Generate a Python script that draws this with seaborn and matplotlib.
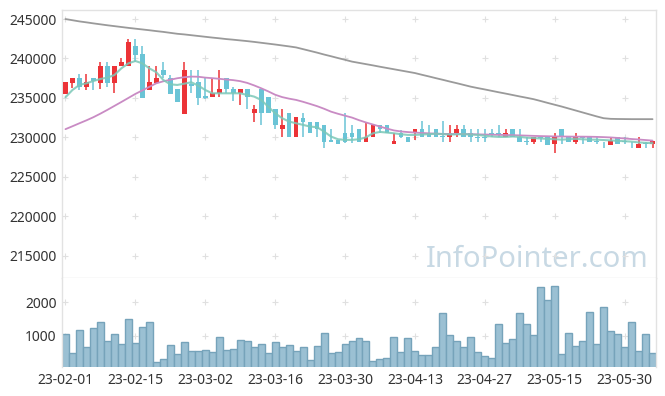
import matplotlib
matplotlib.use("Agg")
import matplotlib.pyplot as plt
import numpy as np
import pandas as pd
import seaborn as sns

# trading days (KRX calendar, holidays removed)
holidays = ["2023-03-01", "2023-05-01", "2023-05-05", "2023-05-29"]
days = pd.bdate_range("2023-02-01", "2023-06-05")
days = days[~days.isin(pd.to_datetime(holidays))]
day_labels = [d.strftime("%y-%m-%d") for d in days]

open_ = [235500, 236900, 237500, 236400, 237500, 236900, 239000, 236900, 239000, 239000,
         241600, 240600, 236000, 236900, 238500, 237500, 236100, 233000, 236700, 237000,
         235200, 235100, 235600, 237500, 236100, 235600, 236100, 233050, 236100, 235100,
         233550, 231000, 233050, 230000, 232500, 232000, 232000, 231550, 229600, 229600,
         230500, 230500, 231000, 229450, 230000, 231550, 231550, 229100, 230600, 230050,
         230500, 231050, 230500, 231050, 230100, 230000, 230500, 231050, 230500, 230050,
         230050, 230500, 230500, 230000, 231050, 230000, 229500, 229450, 230000, 230000,
         229100, 231000, 230000, 229450, 230000, 230000, 229550, 229450, 229050, 230000,
         229550, 229450, 228600, 229300, 229100]
high = [237000, 237500, 238000, 238000, 237500, 239500, 239500, 239000, 240100, 242500,
        242500, 241600, 239100, 239000, 239500, 237900, 236100, 239500, 238500, 238500,
        237500, 237500, 238500, 237500, 236400, 236100, 236100, 234100, 236100, 235100,
        233550, 233550, 233050, 232550, 233050, 232000, 232000, 231550, 231000, 229600,
        233050, 231500, 231000, 232000, 231550, 231550, 231550, 230500, 230900, 230050,
        231050, 232050, 231550, 231050, 232050, 231550, 231550, 231550, 231050, 231050,
        231050, 231050, 231550, 231050, 231050, 231050, 230000, 230000, 230000, 230000,
        230500, 231000, 230000, 230500, 230000, 230000, 230000, 229450, 230000, 230000,
        230000, 229450, 230000, 229450, 229550]
low = [235500, 236300, 236000, 236000, 236000, 236100, 236400, 235600, 239000, 239000,
       239500, 235000, 236000, 236900, 237500, 235500, 234500, 233000, 235600, 234100,
       234900, 235100, 235100, 235600, 234650, 234100, 233560, 232000, 231600, 233050,
       231000, 230000, 230000, 230000, 230000, 230500, 230000, 228600, 229450, 229150,
       229300, 229250, 229450, 229450, 230000, 230500, 230500, 229100, 229900, 229450,
       229700, 230000, 230000, 230000, 229450, 229450, 230000, 230000, 229450, 229450,
       229450, 230000, 230000, 230000, 230000, 229450, 229000, 229100, 229450, 229050,
       228050, 229100, 229450, 229100, 229100, 229450, 229100, 228600, 229050, 229100,
       229100, 228600, 228600, 228600, 228600]
close = [237000, 237500, 236400, 237000, 237200, 239000, 236900, 239000, 239500, 242100,
         240400, 235000, 237000, 237500, 237900, 235500, 234500, 238500, 236500, 235000,
         235000, 235600, 236100, 236100, 235600, 236100, 235100, 233550, 233050, 233050,
         231500, 231550, 230000, 232550, 232000, 230500, 231000, 229450, 229450, 229150,
         229450, 230000, 229450, 230000, 231550, 231000, 230500, 229550, 230000, 229450,
         231050, 230000, 230000, 230000, 230000, 230500, 231050, 230000, 230000, 229950,
         229950, 230400, 230400, 230500, 230000, 229450, 229450, 230000, 229900, 229050,
         230000, 230000, 229450, 230000, 229900, 229450, 229450, 229400, 229550, 229100,
         229450, 229350, 229100, 229200, 229550]
volume = [1040, 470, 1160, 650, 1220, 1400, 840, 1040, 750, 1490,
          770, 1250, 1400, 200, 290, 710, 440, 800, 530, 530,
          560, 500, 950, 560, 590, 860, 830, 650, 740, 470,
          800, 650, 710, 530, 650, 260, 680, 1070, 470, 500,
          740, 840, 920, 840, 230, 290, 320, 950, 500, 920,
          530, 410, 410, 650, 1670, 1010, 840, 650, 950, 500,
          380, 320, 1340, 770, 890, 1670, 1340, 1010, 2450, 2060,
          2480, 440, 1070, 680, 830, 1700, 740, 1850, 1130, 1040,
          650, 1400, 530, 1040, 470]
ma5 = [235080, 236000, 236640, 236850, 237140, 237400, 237570, 237900, 238750, 239380,
       239680, 239380, 238750, 238250, 237270, 236720, 236640, 236800, 236980, 236560,
       236000, 235580, 235580, 235580, 235580, 235580, 235370, 235160, 234740, 233890,
       233050, 232420, 231990, 231780, 231570, 231360, 231280, 230730, 230090, 229750,
       229670, 229670, 229750, 230000, 230510, 230680, 230600, 230510, 230390, 230300,
       230300, 230350, 230400, 230450, 230400, 230350, 230380, 230400, 230350, 230300,
       230200, 230100, 230050, 230050, 230100, 230050, 229950, 229900, 229850, 229800,
       229750, 229700, 229750, 229800, 229750, 229700, 229700, 229650, 229600, 229550,
       229500, 229450, 229350, 229300, 229250]
ma20 = [231030, 231400, 231780, 232150, 232550, 233000, 233480, 233980, 234480, 234990,
        235500, 235950, 236400, 236850, 237100, 237300, 237490, 237620, 237700, 237680,
        237570, 237500, 237420, 237330, 237250, 237120, 236900, 236580, 236220, 235830,
        235400, 235100, 234900, 234740, 234500, 234230, 233950, 233620, 233250, 232980,
        232740, 232500, 232170, 231880, 231620, 231360, 231100, 230870, 230740, 230660,
        230600, 230550, 230500, 230460, 230430, 230420, 230410, 230400, 230390, 230370,
        230350, 230330, 230310, 230290, 230270, 230240, 230210, 230180, 230150, 230130,
        230110, 230100, 230090, 230080, 230080, 230070, 230050, 230020, 229980, 229920,
        229850, 229780, 229720, 229650, 229580]
ma120 = [245000, 244850, 244700, 244580, 244450, 244330, 244210, 244100, 243990, 243880,
         243780, 243680, 243580, 243470, 243370, 243250, 243130, 243050, 242950, 242850,
         242750, 242650, 242560, 242460, 242380, 242290, 242200, 242100, 241990, 241880,
         241770, 241650, 241530, 241400, 241180, 240960, 240740, 240500, 240280, 240050,
         239830, 239600, 239440, 239280, 239120, 238950, 238790, 238630, 238470, 238310,
         238150, 237930, 237720, 237500, 237290, 237070, 236860, 236640, 236420, 236240,
         236070, 235890, 235710, 235540, 235360, 235180, 235010, 234830, 234600, 234360,
         234130, 233900, 233650, 233400, 233150, 232900, 232650, 232420, 232340, 232320,
         232310, 232300, 232300, 232300, 232300]

x_ticks = [0, 10, 20, 30, 40, 50, 60, 70, 80]
price_ticks = [215000, 220000, 225000, 230000, 235000, 240000, 245000]
vol_ticks = [1000, 2000]

UP = "#ec3337"
DOWN = "#6ac4d6"
GRID = "#e0e0e0"
SPINE = "#e2e2e2"

sns.set_theme(style="white")
plt.rcParams["font.family"] = ["Noto Sans", "DejaVu Sans"]

fig = plt.figure(figsize=(6.65, 3.96), dpi=100)
ax = fig.add_axes([0.0932, 0.298, 0.8933, 0.6768])
axv = fig.add_axes([0.0932, 0.0732, 0.8933, 0.2248], sharex=ax)

df = pd.DataFrame({"i": np.arange(len(day_labels)), "date": day_labels,
                   "open": open_, "high": high, "low": low, "close": close,
                   "volume": volume, "ma5": ma5, "ma20": ma20, "ma120": ma120})
df["up"] = df["close"] >= df["open"]
df["col"] = np.where(df["up"], UP, DOWN)

# candles
ax.vlines(df["i"], df["low"], df["high"], colors=df["col"], linewidth=1.1, zorder=2)
body = (df["close"] - df["open"]).abs().clip(lower=60)
ax.bar(df["i"], body, bottom=df[["open", "close"]].min(axis=1), width=0.68,
       color=df["col"], linewidth=0, zorder=3)

# moving averages
sns.lineplot(data=df, x="i", y="ma120", ax=ax, color="#9a9a9a", linewidth=1.3, zorder=4)
sns.lineplot(data=df, x="i", y="ma20", ax=ax, color="#c98bc4", linewidth=1.3, zorder=4)
sns.lineplot(data=df, x="i", y="ma5", ax=ax, color="#7cc8b8", linewidth=1.5, alpha=0.85, zorder=5)

# volume
sns.barplot(data=df, x="i", y="volume", ax=axv, color="#9bc0d3", width=1.0,
            edgecolor="#76a3ba", linewidth=1.0, native_scale=True, saturation=1, zorder=2)

# grid crosses
gx, gy = np.meshgrid(x_ticks, price_ticks)
ax.scatter(gx.ravel(), gy.ravel(), marker="+", s=14, color=GRID, linewidths=0.8, zorder=1)
gx, gy = np.meshgrid(x_ticks, vol_ticks)
axv.scatter(gx.ravel(), gy.ravel(), marker="+", s=14, color=GRID, linewidths=0.8, zorder=1)

ax.set_xlim(-0.5, 84.5)
ax.set_ylim(212150, 246150)
axv.set_ylim(60, 2730)

ax.set_yticks(price_ticks)
ax.set_yticklabels([str(v) for v in price_ticks])
axv.set_yticks(vol_ticks)
axv.set_yticklabels([str(v) for v in vol_ticks])
axv.set_xticks(x_ticks)
axv.set_xticklabels([day_labels[i] for i in x_ticks])
ax.tick_params(axis="x", labelbottom=False)

for a in (ax, axv):
    a.set_xlabel("")
    a.set_ylabel("")
    a.tick_params(length=0, labelsize=10, colors="#333333", pad=4)
    for s in a.spines.values():
        s.set_color(SPINE)
        s.set_linewidth(1.0)
axv.spines["bottom"].set_visible(False)
axv.spines["top"].set_visible(False)

ax.text(0.988, 0.07, "InfoPointer.com", transform=ax.transAxes, ha="right", va="center",
        fontsize=21, color="#c8d9e4", zorder=0)

fig.savefig("out.png", dpi=100)
